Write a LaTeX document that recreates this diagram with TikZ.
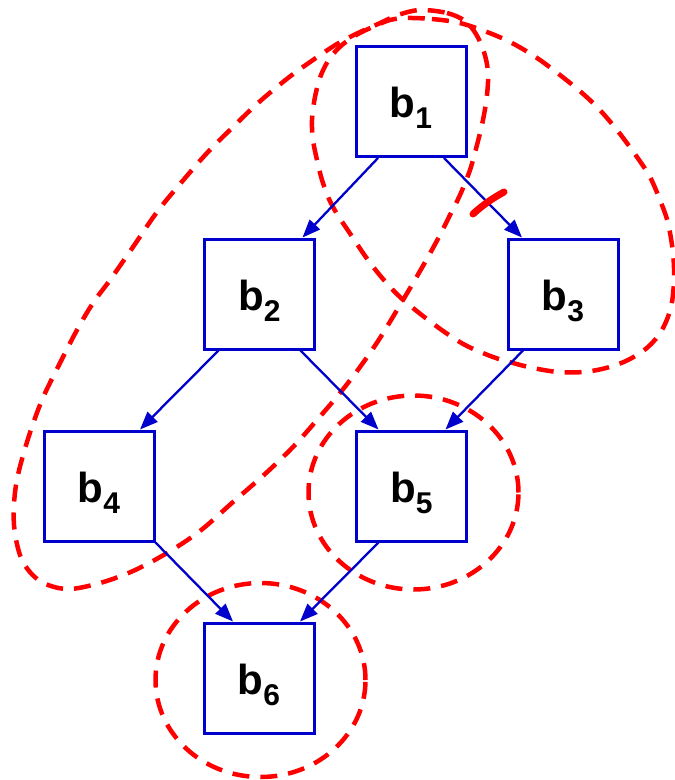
\documentclass[tikz,border=0pt]{standalone}
\usepackage{fontspec}
\setmainfont{Liberation Sans}
\usetikzlibrary{arrows.meta}

\definecolor{boxblue}{RGB}{0,0,204}
\definecolor{groupred}{RGB}{255,0,0}

% block label: bold letter with a smaller, lowered index
\newcommand{\blabel}[1]{{\fontsize{42}{42}\selectfont\bfseries b}\raisebox{-11pt}{\fontsize{30}{30}\selectfont\bfseries #1}}

\tikzset{
  block/.style={draw=boxblue, line width=3pt, rectangle, inner sep=0pt,
    minimum width=110pt, minimum height=110pt, text height=32pt, text depth=0pt},
  flow/.style={draw=boxblue, line width=2.3pt, -{Triangle[length=18pt,width=14pt]}},
  group/.style={draw=groupred, line width=4.5pt, dash pattern=on 17pt off 11pt},
  cut/.style={draw=groupred, line width=7pt, line cap=round}
}

\begin{document}
\begin{tikzpicture}[x=1pt, y=-1pt]
  \useasboundingbox (0,0) rectangle (675,780);

  % blocks
  \node[block] (b1) at (411,101.5) {\blabel{1}};
  \node[block] (b2) at (259.5,294) {\blabel{2}};
  \node[block] (b3) at (563,294) {\blabel{3}};
  \node[block] (b4) at (99,486) {\blabel{4}};
  \node[block] (b5) at (411.5,486) {\blabel{5}};
  \node[block] (b6) at (259,678) {\blabel{6}};

  % region holding b1, b2, b4
  \draw[group] plot[smooth cycle, tension=0.55] coordinates {
    (420,10) (447,13) (465,21) (476,34) (484,52) (488,72) (487,95)
    (483,120) (477,145) (470,170) (460,195) (450,215) (440,235)
    (428,257) (416,278) (403,300) (380,338) (360,367) (340,393)
    (317,420) (293,447) (265,474) (233,502) (200,531) (167,553)
    (133,571) (100,583) (67,589) (40,581) (22,560) (14,525) (16,485)
    (27,442) (42,400) (60,363) (77,330) (93,303) (110,280) (133,247)
    (157,212) (180,184) (207,153) (233,127) (258,103) (288,78)
    (313,60) (337,44) (358,33) (378,24) (398,15)};

  % region holding b1, b3
  \draw[group] plot[smooth cycle, tension=0.55] coordinates {
    (406,18) (432,19) (460,23) (487,32) (512,43) (540,60) (575,87)
    (597,107) (617,130) (637,157) (650,177) (660,200) (668,223)
    (673,253) (674,280) (671,307) (662,330) (648,347) (628,360)
    (606,368) (583,372) (558,372) (533,368) (513,363) (493,357)
    (467,346) (446,333) (423,316) (400,297) (383,279) (368,260)
    (357,244) (347,229) (337,214) (329,199) (322,180) (317,160)
    (313,140) (312,120) (315,97) (321,75) (330,58) (342,45) (358,34)
    (375,26) (390,20)};

  % single-block regions
  \draw[group] ([shift={(2,6.5)}]b5.center) ellipse [x radius=105pt, y radius=97pt];
  \draw[group] ([shift={(1.5,2)}]b6.center) ellipse [x radius=105pt, y radius=97pt];

  % control flow
  \draw[flow] ([xshift=-33pt]b1.south) -- ([xshift=43pt]b2.north);
  \draw[flow] ([xshift=33pt]b1.south) -- ([xshift=-41pt]b3.north);
  \draw[flow] ([xshift=-41pt]b2.south) -- ([xshift=41pt]b4.north);
  \draw[flow] ([xshift=41pt]b2.south) -- ([xshift=-33pt]b5.north);
  \draw[flow] ([xshift=-40pt]b3.south) -- ([xshift=34pt]b5.north);
  \draw[flow] (b4.south east) -- ([xshift=-26pt]b6.north);
  \draw[flow] ([xshift=-33pt]b5.south) -- ([xshift=41pt]b6.north);

  % mark cutting the b1 -> b3 edge
  \draw[cut] (473,214) .. controls (485,203) and (495,197) .. (504,192);
\end{tikzpicture}
\end{document}
